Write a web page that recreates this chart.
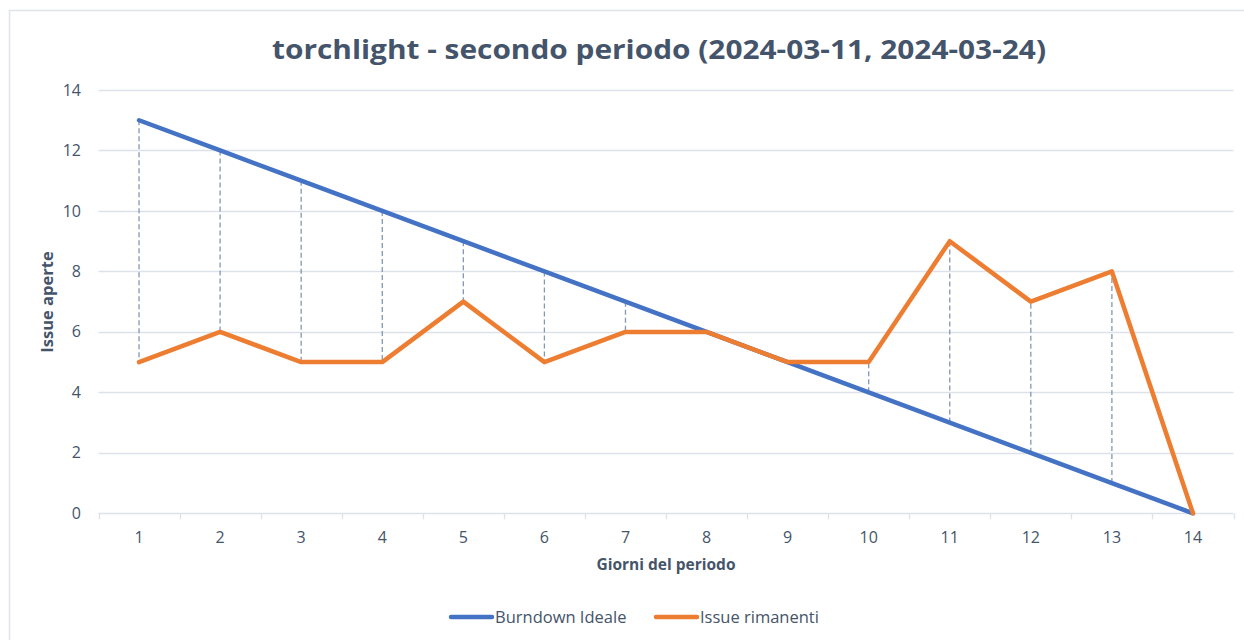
<!DOCTYPE html>
<html>
<head>
<meta charset="utf-8">
<script src="https://cdn.jsdelivr.net/npm/d3@7"></script>
<style>
  body { margin: 0; background: #fff; }
  svg { display: block; font-family: "Open Sans", "Noto Sans", sans-serif; }
</style>
</head>
<body>
<div id="chart"></div>
<script>
//##### Burndown chart #####
var days = [1, 2, 3, 4, 5, 6, 7, 8, 9, 10, 11, 12, 13, 14];
var idealBurndown = [13, 12, 11, 10, 9, 8, 7, 6, 5, 4, 3, 2, 1, 0];
var remainingIssues = [5, 6, 5, 5, 7, 5, 6, 6, 5, 5, 9, 7, 8, 0];
var yTicks = [0, 2, 4, 6, 8, 10, 12, 14];
var seriesNames = ["Burndown Ideale", "Issue rimanenti"];
var titleText = "torchlight - secondo periodo (2024-03-11, 2024-03-24)";

var width = 1244,
  height = 640,
  margin = { top: 90, right: 10, bottom: 127, left: 98.5 },
  textColor = "#44546a",
  gridColor = "#dde2ea",
  colors = { "Burndown Ideale": "#4472c4", "Issue rimanenti": "#ed7d31" };

var svg = d3
  .select("#chart")
  .append("svg")
  .attr("width", width)
  .attr("height", height);

// chart frame (cut off on the right and bottom in the original)
svg
  .append("rect")
  .attr("x", 9.5)
  .attr("y", 10.5)
  .attr("width", 1300)
  .attr("height", 700)
  .attr("fill", "none")
  .attr("stroke", "#dfe3ea")
  .attr("stroke-width", 1.5);

var x = d3
  .scaleBand()
  .domain(days)
  .range([margin.left, 1233.5]);

var y = d3
  .scaleLinear()
  .domain([0, 14])
  .range([513.3, margin.top]);

var cx = function(d) {
  return x(d) + x.bandwidth() / 2;
};

// gridlines
svg
  .append("g")
  .selectAll("line")
  .data(yTicks)
  .enter()
  .append("line")
  .attr("x1", margin.left)
  .attr("x2", 1233.5)
  .attr("y1", function(d) { return Math.round(y(d)) + 0.5; })
  .attr("y2", function(d) { return Math.round(y(d)) + 0.5; })
  .attr("stroke", gridColor)
  .attr("stroke-width", 1.3);

// y tick labels
svg
  .append("g")
  .selectAll("text")
  .data(yTicks)
  .enter()
  .append("text")
  .attr("x", 81)
  .attr("y", function(d) { return y(d); })
  .attr("dy", "0.35em")
  .attr("text-anchor", "end")
  .attr("fill", textColor)
  .style("font-size", "16px")
  .text(function(d) { return d; });

// x axis tick marks between categories
var boundaries = days.map(function(d) { return x(d); }).concat([x(14) + x.bandwidth()]);
svg
  .append("g")
  .selectAll("line")
  .data(boundaries)
  .enter()
  .append("line")
  .attr("x1", function(d) { return Math.round(d) + 0.5; })
  .attr("x2", function(d) { return Math.round(d) + 0.5; })
  .attr("y1", y(0))
  .attr("y2", y(0) + 6)
  .attr("stroke", gridColor)
  .attr("stroke-width", 1.3);

// x tick labels
svg
  .append("g")
  .selectAll("text")
  .data(days)
  .enter()
  .append("text")
  .attr("x", cx)
  .attr("y", 537)
  .attr("dy", "0.35em")
  .attr("text-anchor", "middle")
  .attr("fill", textColor)
  .style("font-size", "16px")
  .text(function(d) { return d; });

// drop lines between the two series
svg
  .append("g")
  .selectAll("line")
  .data(days)
  .enter()
  .append("line")
  .attr("x1", cx)
  .attr("x2", cx)
  .attr("y1", function(d, i) { return y(idealBurndown[i]); })
  .attr("y2", function(d, i) { return y(remainingIssues[i]); })
  .attr("stroke", "#8497b0")
  .attr("stroke-width", 1.3)
  .attr("stroke-dasharray", "5,3");

var line = d3
  .line()
  .x(function(d) { return cx(d.day); })
  .y(function(d) { return y(d.value); });

var series = [
  { name: seriesNames[0], values: idealBurndown },
  { name: seriesNames[1], values: remainingIssues }
];

svg
  .append("g")
  .selectAll("path")
  .data(series)
  .enter()
  .append("path")
  .attr("fill", "none")
  .attr("stroke", function(d) { return colors[d.name]; })
  .attr("stroke-width", 4.5)
  .attr("stroke-linejoin", "round")
  .attr("stroke-linecap", "round")
  .attr("d", function(s) {
    return line(s.values.map(function(v, i) { return { day: days[i], value: v }; }));
  });

// title
svg
  .append("text")
  .attr("x", 659)
  .attr("y", 59)
  .attr("text-anchor", "middle")
  .attr("fill", textColor)
  .attr("textLength", 774)
  .attr("lengthAdjust", "spacingAndGlyphs")
  .style("font-size", "27px")
  .style("font-weight", "bold")
  .text(titleText);

// axis titles
svg
  .append("text")
  .attr("transform", "translate(53,302) rotate(-90)")
  .attr("text-anchor", "middle")
  .attr("fill", textColor)
  .style("font-size", "16.5px")
  .style("font-weight", "bold")
  .text("Issue aperte");

svg
  .append("text")
  .attr("x", 666)
  .attr("y", 570)
  .attr("text-anchor", "middle")
  .attr("fill", textColor)
  .style("font-size", "15.5px")
  .style("font-weight", "bold")
  .text("Giorni del periodo");

// legend
var legend = svg
  .append("g")
  .selectAll("g")
  .data(seriesNames)
  .enter()
  .append("g")
  .attr("transform", function(d, i) {
    return "translate(" + (451 + i * 205) + ",617)";
  });
legend
  .append("line")
  .attr("x1", 0)
  .attr("x2", 41)
  .attr("stroke", function(d) { return colors[d]; })
  .attr("stroke-width", 4.5)
  .attr("stroke-linecap", "round");
legend
  .append("text")
  .attr("x", 44)
  .attr("dy", "0.35em")
  .attr("fill", textColor)
  .style("font-size", "16.5px")
  .text(function(d) { return d; });
</script>
</body>
</html>
